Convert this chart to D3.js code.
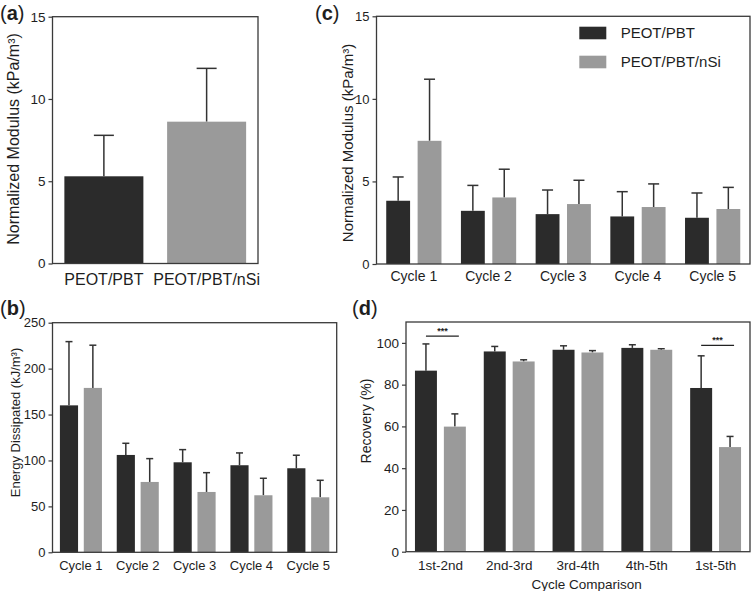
<!DOCTYPE html>
<html>
<head>
<meta charset="utf-8">
<script src="https://cdn.jsdelivr.net/npm/d3@7"></script>
<style>
  html, body { margin: 0; padding: 0; background: #fff; }
  svg { display: block; font-family: "Liberation Sans", Arial, Helvetica, sans-serif; }
</style>
</head>
<body>
<svg id="chart" width="752" height="591"></svg>
<script>
// ---------------- DATA ----------------
const seriesNames = ["PEOT/PBT", "PEOT/PBT/nSi"];

// (a) Normalized modulus, single test
const modulusMean = [5.3, 8.62];
const modulusSD = [2.49, 3.24];

// cycles
const cycleLabels = ["Cycle 1", "Cycle 2", "Cycle 3", "Cycle 4", "Cycle 5"];

// (b) Energy dissipated (kJ/m3)
const energyMeanPBT = [160, 106, 98, 94.8, 91.5];
const energySDPBT = [69.4, 12.7, 13.8, 13.4, 14.2];
const energyMeanNSi = [179, 76.6, 65.7, 62.1, 59.9];
const energySDNSi = [46.5, 25.4, 21.0, 18.5, 18.5];

// (c) Normalized modulus per cycle (kPa/m3)
const cycModMeanPBT = [3.83, 3.22, 3.02, 2.88, 2.80];
const cycModSDPBT = [1.44, 1.54, 1.46, 1.50, 1.50];
const cycModMeanNSi = [7.46, 4.03, 3.63, 3.45, 3.33];
const cycModSDNSi = [3.73, 1.71, 1.44, 1.40, 1.31];

// (d) Recovery (%)
const comparisonLabels = ["1st-2nd", "2nd-3rd", "3rd-4th", "4th-5th", "1st-5th"];
const recoveryMeanPBT = [86.7, 95.9, 96.7, 97.6, 78.4];
const recoverySDPBT = [12.8, 2.4, 1.9, 1.5, 15.4];
const recoveryMeanNSi = [59.9, 91.1, 95.4, 96.7, 50.1];
const recoverySDNSi = [6.1, 0.8, 0.9, 0.5, 5.1];
const sigCategories = ["1st-2nd", "1st-5th"];
const sigLevels = [103.2, 98.8];
const sigText = "***";

// tick values
const ticksModulus = [0, 5, 10, 15];
const ticksEnergy = [0, 50, 100, 150, 200, 250];
const ticksRecovery = [0, 20, 40, 60, 80, 100];

// ---------------- STYLE ----------------
const colors = { "PEOT/PBT": "#2b2b2b", "PEOT/PBT/nSi": "#9a9a9a" };
const inkColor = "#1e1e1e";
const frameColor = "#3a3a3a";
const errColor = "#333";

const svg = d3.select("#chart");

function frame(g, p) {
  g.append("rect")
    .attr("x", p.x0).attr("y", p.y0)
    .attr("width", p.x1 - p.x0).attr("height", p.y1 - p.y0)
    .attr("fill", "none").attr("stroke", frameColor).attr("stroke-width", 1.3);
}

function yAxis(g, p, y, ticks, fs) {
  const ax = g.append("g").attr("transform", `translate(${p.x0},0)`)
    .call(d3.axisLeft(y).tickValues(ticks).tickSize(4).tickPadding(3).tickFormat(d3.format("d")));
  ax.select(".domain").remove();
  ax.selectAll(".tick line").attr("stroke", frameColor).attr("stroke-width", 1.2);
  ax.selectAll(".tick text").attr("fill", inkColor).style("font-size", fs + "px")
    .style("font-family", "'Liberation Sans', Arial, sans-serif");
}

function yLabel(g, text, cx, cy, fs) {
  g.append("text")
    .attr("transform", `translate(${cx},${cy}) rotate(-90)`)
    .attr("text-anchor", "middle").attr("dominant-baseline", "central")
    .attr("fill", inkColor).style("font-size", fs + "px").text(text);
}

function panelLabel(letter, x, y) {
  const t = svg.append("text").attr("x", x).attr("y", y).attr("fill", inkColor).style("font-size", "20px");
  t.append("tspan").text("(");
  t.append("tspan").attr("font-weight", "bold").text(letter);
  t.append("tspan").text(")");
}

function errorBar(g, cx, yMean, yTop, cap) {
  g.append("line").attr("x1", cx).attr("x2", cx).attr("y1", yMean).attr("y2", yTop)
    .attr("stroke", errColor).attr("stroke-width", 1.5);
  g.append("line").attr("x1", cx - cap / 2).attr("x2", cx + cap / 2).attr("y1", yTop).attr("y2", yTop)
    .attr("stroke", errColor).attr("stroke-width", 1.5);
}

function groupedPanel(p, cats, meansA, sdsA, meansB, sdsB, domain, ticks, opts) {
  const g = svg.append("g");
  const x0 = d3.scaleBand().domain(cats).range([p.x0, p.x1]).padding(0);
  const x1 = d3.scaleBand().domain(seriesNames).range([0, x0.bandwidth()])
    .paddingInner(0.24).paddingOuter(0.31);
  const y = d3.scaleLinear().domain(domain).range([p.y1, p.y0]);
  const rows = [];
  cats.forEach((c, i) => {
    rows.push({ cat: c, s: seriesNames[0], m: meansA[i], sd: sdsA[i] });
    rows.push({ cat: c, s: seriesNames[1], m: meansB[i], sd: sdsB[i] });
  });
  rows.forEach(r => {
    const bx = x0(r.cat) + x1(r.s);
    errorBar(g, bx + x1.bandwidth() / 2, y(r.m), y(r.m + r.sd), opts.cap);
  });
  g.selectAll("rect.bar").data(rows).join("rect").attr("class", "bar")
    .attr("x", d => x0(d.cat) + x1(d.s))
    .attr("y", d => y(d.m))
    .attr("width", x1.bandwidth())
    .attr("height", d => y(0) - y(d.m))
    .attr("fill", d => colors[d.s]);
  frame(g, p);
  yAxis(g, p, y, ticks, opts.tickFs);
  cats.forEach(c => {
    g.append("text").attr("x", x0(c) + x0.bandwidth() / 2).attr("y", opts.labelY)
      .attr("text-anchor", "middle").attr("fill", inkColor)
      .style("font-size", opts.labelFs + "px").text(c);
  });
  return { g, x0, x1, y };
}

// ---------------- PANEL A ----------------
(function () {
  const p = { x0: 52.5, x1: 258, y0: 16.7, y1: 263.5 };
  const g = svg.append("g");
  const x = d3.scaleBand().domain(seriesNames).range([p.x0, p.x1]).paddingInner(0.231).paddingOuter(0.1155);
  const y = d3.scaleLinear().domain([0, 15]).range([p.y1, p.y0]);
  seriesNames.forEach((s, i) => {
    errorBar(g, x(s) + x.bandwidth() / 2, y(modulusMean[i]), y(modulusMean[i] + modulusSD[i]), 20);
  });
  g.selectAll("rect.bar").data(seriesNames).join("rect").attr("class", "bar")
    .attr("x", d => x(d)).attr("y", (d, i) => y(modulusMean[i]))
    .attr("width", x.bandwidth()).attr("height", (d, i) => y(0) - y(modulusMean[i]))
    .attr("fill", d => colors[d]);
  frame(g, p);
  yAxis(g, p, y, ticksModulus, 13.5);
  seriesNames.forEach(s => {
    g.append("text").attr("x", x(s) + x.bandwidth() / 2).attr("y", 285)
      .attr("text-anchor", "middle").attr("fill", inkColor).style("font-size", "16px").text(s);
  });
  yLabel(g, "Normalized Modulus (kPa/m³)", 13.5, 139, 16);
  panelLabel("a", 0, 20);
})();

// ---------------- PANEL B ----------------
(function () {
  const p = { x0: 52.5, x1: 336.7, y0: 322.7, y1: 552.3 };
  const r = groupedPanel(p, cycleLabels, energyMeanPBT, energySDPBT, energyMeanNSi, energySDNSi,
    [0, 250], ticksEnergy, { cap: 7, tickFs: 13, labelFs: 13, labelY: 569.5 });
  yLabel(r.g, "Energy Dissipated (kJ/m³)", 15, 422.5, 13);
  panelLabel("b", 0, 315);
})();

// ---------------- PANEL C ----------------
(function () {
  const p = { x0: 376.5, x1: 750, y0: 16.3, y1: 264 };
  const r = groupedPanel(p, cycleLabels, cycModMeanPBT, cycModSDPBT, cycModMeanNSi, cycModSDNSi,
    [0, 15], ticksModulus, { cap: 11, tickFs: 13, labelFs: 14, labelY: 281 });
  yLabel(r.g, "Normalized Modulus (kPa/m³)", 347, 143, 15);
  panelLabel("c", 315, 20);
  // legend
  const lg = r.g.append("g");
  seriesNames.forEach((s, i) => {
    lg.append("rect").attr("x", 579.3).attr("y", 26.7 + i * 29).attr("width", 27).attr("height", 12.6)
      .attr("fill", colors[s]);
    lg.append("text").attr("x", 620.7).attr("y", 38.3 + i * 29).attr("fill", inkColor)
      .style("font-size", "15px").text(s);
  });
})();

// ---------------- PANEL D ----------------
(function () {
  const p = { x0: 406, x1: 750, y0: 322, y1: 551.7 };
  const r = groupedPanel(p, comparisonLabels, recoveryMeanPBT, recoverySDPBT, recoveryMeanNSi, recoverySDNSi,
    [0, 110], ticksRecovery, { cap: 7, tickFs: 13.5, labelFs: 13.5, labelY: 569.5 });
  yLabel(r.g, "Recovery (%)", 366, 421, 14);
  panelLabel("d", 352, 315);
  r.g.append("text").attr("x", (p.x0 + p.x1) / 2 + 8.7).attr("y", 588.5).attr("text-anchor", "middle")
    .attr("fill", inkColor).style("font-size", "13.5px").text("Cycle Comparison");
  sigCategories.forEach((c, i) => {
    const xa = r.x0(c) + r.x1(seriesNames[0]) + r.x1.bandwidth() / 2;
    const xb = r.x0(c) + r.x1(seriesNames[1]) + r.x1.bandwidth() / 2 + 4;
    const yy = r.y(sigLevels[i]);
    r.g.append("line").attr("x1", xa).attr("x2", xb).attr("y1", yy).attr("y2", yy)
      .attr("stroke", "#222").attr("stroke-width", 1.2);
    r.g.append("text").attr("x", (xa + xb) / 2).attr("y", yy - 2.5).attr("text-anchor", "middle")
      .attr("fill", "#222").style("font-size", "9px").style("font-weight", "bold").text(sigText);
  });
})();
</script>
</body>
</html>
